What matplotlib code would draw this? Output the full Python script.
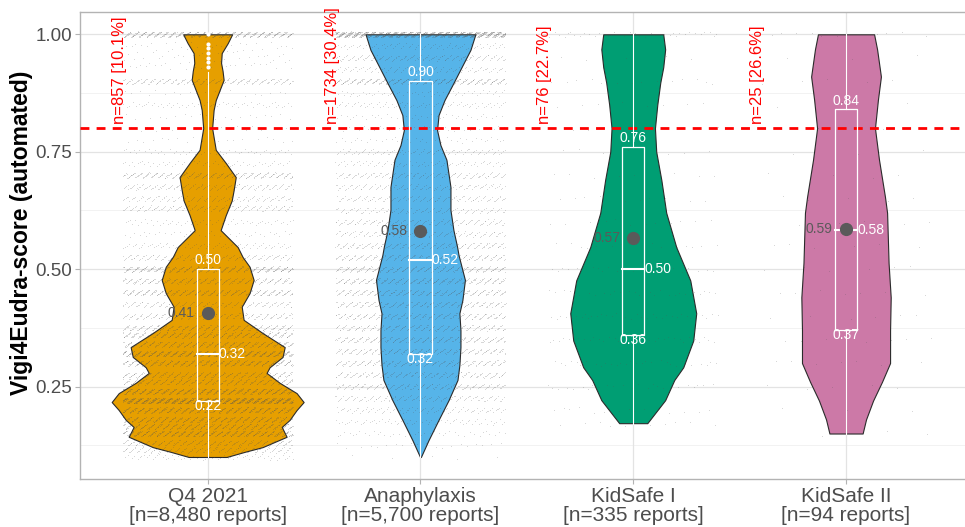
import numpy as np
import matplotlib
matplotlib.use("Agg")
import matplotlib.pyplot as plt

plt.rcParams["font.family"] = ["Liberation Sans", "DejaVu Sans"]

# ---------------- data ----------------
categories = ["Q4 2021", "Anaphylaxis", "KidSafe I", "KidSafe II"]
n_reports = [8480, 5700, 335, 94]
n_above = [857, 1734, 76, 25]
pct_above = [10.1, 30.4, 22.7, 26.6]
threshold = 0.8
colors = ["#E69F00", "#56B4E9", "#009E73", "#CC79A7"]

# box-plot statistics
whisk_lo = [0.10, 0.10, 0.17, 0.15]
q1 = [0.22, 0.32, 0.36, 0.37]
median = [0.32, 0.52, 0.50, 0.583]
q3 = [0.50, 0.90, 0.76, 0.84]
whisk_hi = [0.92, 1.00, 1.00, 1.00]
means = [0.406, 0.581, 0.566, 0.586]
outliers_q4 = [0.93, 0.94, 0.95, 0.96, 0.97, 0.98, 1.00]

# violin outlines: score level and half-width (x units)
q4_y = [1.000, 0.981, 0.960, 0.939, 0.922, 0.903, 0.881, 0.860, 0.839, 0.800,
        0.754, 0.726, 0.696, 0.668, 0.646, 0.615, 0.583, 0.547, 0.526, 0.505,
        0.477, 0.449, 0.420, 0.392, 0.364, 0.334, 0.313, 0.291, 0.279, 0.258,
        0.236, 0.217, 0.200, 0.179, 0.164, 0.143, 0.121, 0.111, 0.100]
q4_w = [0.115, 0.094, 0.066, 0.063, 0.070, 0.075, 0.056, 0.038, 0.028, 0.021,
        0.038, 0.085, 0.132, 0.122, 0.113, 0.085, 0.061, 0.141, 0.164, 0.197,
        0.216, 0.197, 0.160, 0.169, 0.258, 0.362, 0.352, 0.291, 0.277, 0.338,
        0.418, 0.451, 0.418, 0.385, 0.348, 0.371, 0.258, 0.174, 0.089]
ana_y = [1.000, 0.967, 0.930, 0.892, 0.860, 0.828, 0.796, 0.764, 0.733, 0.675,
         0.626, 0.583, 0.548, 0.530, 0.477, 0.434, 0.406, 0.370, 0.334, 0.296,
         0.264, 0.221, 0.179, 0.136, 0.100]
ana_w = [0.258, 0.235, 0.193, 0.150, 0.113, 0.085, 0.078, 0.094, 0.122, 0.141,
         0.141, 0.155, 0.172, 0.179, 0.209, 0.197, 0.183, 0.188, 0.188, 0.183,
         0.174, 0.132, 0.085, 0.038, 0.002]
ks1_y = [1.000, 0.968, 0.930, 0.897, 0.850, 0.800, 0.750, 0.690, 0.620, 0.547,
         0.476, 0.406, 0.348, 0.291, 0.264, 0.221, 0.172]
ks1_w = [0.141, 0.150, 0.141, 0.127, 0.113, 0.102, 0.108, 0.132, 0.155, 0.202,
         0.268, 0.296, 0.282, 0.235, 0.193, 0.150, 0.066]
ks2_y = [1.000, 0.968, 0.910, 0.861, 0.800, 0.733, 0.654, 0.620, 0.513, 0.440,
         0.370, 0.300, 0.260, 0.220, 0.180, 0.150]
ks2_w = [0.132, 0.146, 0.164, 0.150, 0.136, 0.155, 0.183, 0.193, 0.200, 0.210,
         0.207, 0.207, 0.169, 0.127, 0.094, 0.078]
violin_y = [q4_y, ana_y, ks1_y, ks2_y]
violin_w = [q4_w, ana_w, ks1_w, ks2_w]

# individual reports: score levels and number of reports at each level
q4_levels = [1.00, 0.98, 0.97, 0.96, 0.95, 0.94, 0.93, 0.90, 0.875, 0.85, 0.825,
             0.80, 0.775, 0.75, 0.725, 0.70, 0.675, 0.65, 0.63, 0.60, 0.575,
             0.55, 0.525, 0.50, 0.475, 0.45, 0.425, 0.40, 0.375, 0.36, 0.34,
             0.32, 0.30, 0.275, 0.26, 0.24, 0.22, 0.20, 0.18, 0.165, 0.15,
             0.13, 0.115, 0.10]
q4_counts = [420, 15, 15, 15, 15, 15, 15, 200, 20, 60, 20,
             15, 20, 50, 60, 250, 150, 120, 150, 60, 40,
             80, 150, 350, 250, 300, 150, 180, 250, 300, 300,
             500, 350, 250, 250, 450, 800, 400, 330, 300, 400,
             200, 150, 65]
ana_levels = [1.00, 0.975, 0.95, 0.925, 0.90, 0.875, 0.85, 0.825, 0.80, 0.775,
              0.75, 0.725, 0.70, 0.675, 0.65, 0.625, 0.60, 0.575, 0.55, 0.525,
              0.50, 0.475, 0.45, 0.425, 0.40, 0.375, 0.35, 0.325, 0.30, 0.275,
              0.25, 0.225, 0.20, 0.175, 0.15, 0.125, 0.10]
ana_counts = [900, 80, 150, 100, 300, 60, 80, 40, 30, 40,
              100, 80, 150, 120, 130, 120, 150, 130, 180, 200,
              250, 250, 230, 200, 200, 200, 220, 200, 200, 180,
              170, 130, 100, 70, 40, 20, 5]
ks1_levels = [1.00, 0.95, 0.90, 0.85, 0.80, 0.75, 0.70, 0.65, 0.60, 0.55, 0.50,
              0.45, 0.40, 0.35, 0.30, 0.25, 0.20, 0.17]
ks1_counts = [40, 5, 15, 8, 8, 8, 10, 10, 12, 15, 25, 28, 35, 35, 30, 25, 15, 10]
ks2_levels = [1.00, 0.95, 0.90, 0.85, 0.80, 0.75, 0.70, 0.65, 0.60, 0.55, 0.50,
              0.45, 0.40, 0.35, 0.30, 0.25, 0.20, 0.15]
ks2_counts = [12, 3, 5, 3, 2, 3, 4, 5, 6, 6, 6, 7, 7, 7, 7, 5, 3, 3]
point_levels = [q4_levels, ana_levels, ks1_levels, ks2_levels]
point_counts = [q4_counts, ana_counts, ks1_counts, ks2_counts]

# ---------------- figure ----------------
W, H = 965, 527
fig = plt.figure(figsize=(W / 100, H / 100), dpi=100)
ax = fig.add_axes([80 / W, (H - 479.3) / H, 893.7 / W, 467.3 / H])
ax.set_xlim(0.4, 4.6)
ax.set_ylim(0.0525, 1.0475)

# grid
for v in [0.25, 0.5, 0.75, 1.0]:
    ax.axhline(v, color="#E3E3E3", lw=0.9, zorder=0)
for v in [0.125, 0.375, 0.625, 0.875]:
    ax.axhline(v, color="#F0F0F0", lw=0.6, zorder=0)
for i in range(1, 5):
    ax.axvline(i, color="#E3E3E3", lw=0.9, zorder=0)

# violins
for i in range(4):
    y = np.array(violin_y[i])
    w = np.array(violin_w[i])
    ax.fill_betweenx(y, (i + 1) - w, (i + 1) + w, facecolor=colors[i],
                     edgecolor="#2b2b2b", lw=0.8, zorder=1)

# jittered points (deterministic spread across the jitter width)
phi = 0.6180339887498949
for i, (lv, ct) in enumerate(zip(point_levels, point_counts)):
    ys = np.repeat(lv, ct)
    k = np.arange(len(ys))
    jx = (0.5 + k * phi) % 1.0
    jy = (0.5 + k * 0.4142135623730951 + 0.37 * ((k * 7) % 5)) % 1.0
    xs = (i + 1) + (jx - 0.5) * 0.8
    yy = ys + (jy - 0.5) * 0.012
    ax.scatter(xs, yy, s=0.45, color="#555555", alpha=0.18, linewidths=0, zorder=2)

# threshold line
ax.axhline(threshold, color="#FF0000", lw=2.0, dashes=(3.2, 2.6), zorder=3)

# box plots
bw = 0.052
for i in range(4):
    x = i + 1
    ax.plot([x, x], [whisk_lo[i], q1[i]], color="white", lw=0.8, zorder=4)
    ax.plot([x, x], [q3[i], whisk_hi[i]], color="white", lw=0.8, zorder=4)
    ax.plot([x - bw, x + bw, x + bw, x - bw, x - bw],
            [q1[i], q1[i], q3[i], q3[i], q1[i]], color="white", lw=0.9, zorder=4)
    ax.plot([x - bw, x + bw], [median[i], median[i]], color="white", lw=1.5, zorder=4)
    ax.plot([x], [means[i]], "o", color="#5A5A5A", ms=9.5, mec="none", zorder=5)
    ax.text(x, q3[i] + 0.004, f"{q3[i]:.2f}", color="white", fontsize=10,
            ha="center", va="bottom", zorder=6)
    ax.text(x, q1[i] + 0.004, f"{q1[i]:.2f}", color="white", fontsize=10,
            ha="center", va="top", zorder=6)
    ax.text(x + bw, median[i], f"{median[i]:.2f}", color="white", fontsize=10,
            ha="left", va="center", zorder=6)
    ax.text(x - 0.062, means[i], f"{means[i]:.2f}", color="#5A5A5A", fontsize=10,
            ha="right", va="center", zorder=6)
    ax.text(x - 0.415, threshold + 0.009, f"n={n_above[i]} [{pct_above[i]}%]",
            color="#FF0000", fontsize=12, rotation=90, ha="center", va="bottom",
            zorder=6)
ax.plot([1] * len(outliers_q4), outliers_q4, "o", color="white", ms=3, mec="none", zorder=5)

# axes styling
ax.set_xticks([1, 2, 3, 4])
ax.set_xticklabels([f"{c}\n[n={n:,} reports]" for c, n in zip(categories, n_reports)],
                   fontsize=15, color="#4D4D4D", linespacing=1.0)
ax.set_yticks([0.25, 0.5, 0.75, 1.0])
ax.set_yticklabels(["0.25", "0.50", "0.75", "1.00"], fontsize=13.5, color="#4D4D4D")
ax.tick_params(axis="both", length=3.5, width=0.8, color="#B3B3B3")
ax.tick_params(axis="x", pad=2)
ax.tick_params(axis="y", pad=2)
for s in ax.spines.values():
    s.set_color("#B3B3B3")
    s.set_linewidth(1.0)
fig.text(22 / W, 1 - 232.5 / H, "Vigi4Eudra-score (automated)", rotation=90,
         ha="center", va="center", fontsize=16.5, fontweight="bold", color="black")

fig.savefig("out.png", dpi=100)
